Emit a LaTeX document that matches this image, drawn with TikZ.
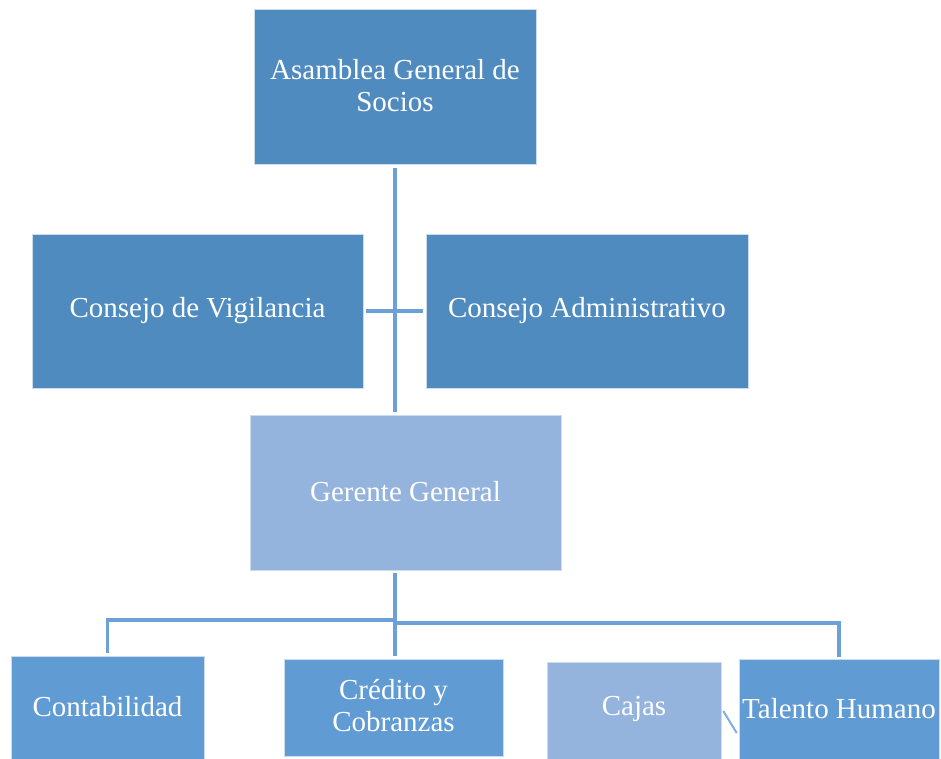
\documentclass[tikz,border=0pt]{standalone}
\usepackage{fontspec}
\setmainfont{Liberation Serif}
\begin{document}
\begin{tikzpicture}[x=1pt,y=-1pt,
  box/.style={rectangle, draw=white!70!boxdark, line width=0.6pt, text=white, align=center,
    inner sep=0pt, font=\fontsize{29}{32}\selectfont},
  upper/.style={box, fill=boxdark},
  lower/.style={box, fill=boxmid},
  soft/.style={box, fill=boxlight},
  label/.style={font=\fontsize{29}{32}\selectfont, text=white, inner sep=0pt},
  link/.style={draw=linkblue, line width=3.2pt},
  thinlink/.style={draw=linkblue!85!white, line width=2pt}]
\definecolor{boxdark}{RGB}{80,139,192}
\definecolor{boxmid}{RGB}{96,155,212}
\definecolor{boxlight}{RGB}{148,180,222}
\definecolor{linkblue}{RGB}{108,160,216}
\useasboundingbox (0,0) rectangle (941,758);
\clip (0,0) rectangle (941,758);

% governing bodies
\node[upper, minimum width=282pt, minimum height=155pt] (asamblea) at (395,86.5) {};
\node[label, align=center] (asambleatxt) at (395,86) {Asamblea General de\\Socios};
\node[upper, minimum width=331pt, minimum height=154pt] (vigilancia) at (197.5,311) {};
\node[label] (vigilanciatxt) at (197.5,311) {Consejo de Vigilancia};
\node[upper, minimum width=322pt, minimum height=154pt] (administrativo) at (587,311) {};
\node[label] (administrativotxt) at (587,311) {Consejo Administrativo};
\node[soft, minimum width=311pt, minimum height=155pt] (gerente) at (405.5,492.5) {};
\node[label] (gerentetxt) at (405.5,492) {Gerente General};

% departments
\node[lower, minimum width=193pt, minimum height=110pt] (contab) at (107.5,711) {};
\node[label] (contabtxt) at (107.5,707) {Contabilidad};
\node[lower, minimum width=219pt, minimum height=97pt] (credito) at (393.5,707.5) {};
\node[label, align=center] (creditotxt) at (393.5,706) {Crédito y\\Cobranzas};
\node[soft, minimum width=174pt, minimum height=110pt] (cajas) at (634,717) {};
\node[label] (cajastxt) at (634,709) {Cajas};
\node[lower, minimum width=200pt, minimum height=110pt] (talento) at (839,714) {};
\node[label] (talentotxt) at (839,709) {Talento Humano};

% vertical spine and council link
\draw[link] ([yshift=-4pt]asamblea.south) -- ([yshift=3pt]gerente.north -| asamblea.south);
\draw[link] ([xshift=3pt]vigilancia.east) -- ([xshift=-3pt]administrativo.west);

% departmental tree
\coordinate (bus) at (395,620);
\draw[link] ([yshift=-3pt]gerente.south -| bus) -- (bus);
\draw[link] (bus) -| ([yshift=3pt]contab.north);
\draw[link] (bus) -- ([yshift=3pt]credito.north -| bus);
\draw[link] ([yshift=-3pt]bus) -| ([yshift=2pt]talento.north);
\draw[thinlink] ([shift={(2pt,-2pt)}]cajas.east |- talentotxt) -- ([shift={(-2pt,-24pt)}]talento.west |- talentotxt);
\end{tikzpicture}
\end{document}
